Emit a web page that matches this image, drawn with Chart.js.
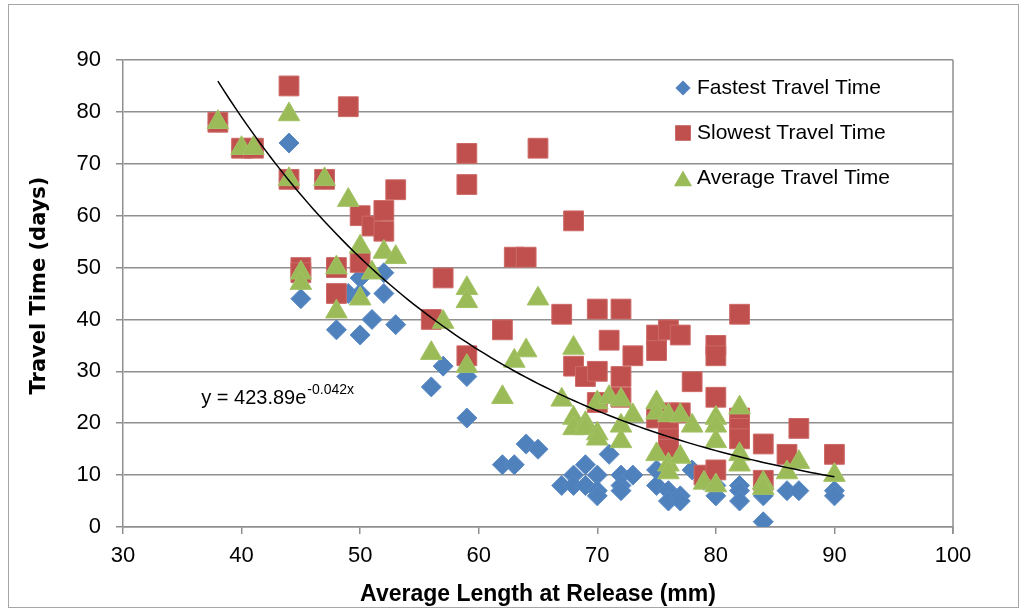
<!DOCTYPE html>
<html>
<head>
<meta charset="utf-8">
<script src="https://cdn.jsdelivr.net/npm/chart.js@4.4.1/dist/chart.umd.min.js"></script>
<style>
  html, body { margin: 0; padding: 0; background: #fff; overflow: hidden; }
  #c { display: block; }
</style>
</head>
<body>
<canvas id="c" width="1024" height="613"></canvas>
<script>
// Release length (mm) and travel time (days) per group
const fastestX = [38,40,41,44,44,45,47,48,49,50,50,50,51,52,52,53,56,57,59,59,62,63,64,65,67,68,68,69,69,70,70,70,71,72,72,72,73,75,75,76,76,77,77,78,79,80,80,82,82,82,84,84,86,87,90,90];
const fastestY = [78,73,73,74,67,44,67,38,45,48,45,37,40,49,45,39,27,31,29,21,12,12,16,15,8,10,8,12,8,10,7,6,14,10,8,7,10,11,8,7,5,6,5,11,9,8,6,8,7,5,6,1,7,7,7,6];

const slowestX = [38,40,41,44,44,45,45,47,48,48,49,50,50,51,52,52,53,56,57,59,59,59,62,63,64,65,67,68,68,69,70,70,70,71,72,72,72,73,75,75,75,76,76,76,76,76,77,77,78,79,80,80,80,80,82,82,82,82,84,84,86,87,90];
const slowestY = [78,73,73,85,67,50,49,67,50,45,81,60,51,58,61,57,65,40,48,72,66,33,38,52,52,73,41,59,31,29,42,30,24,36,42,29,25,33,37,34,21,38,22,19,17,15,37,22,28,10,35,33,25,11,41,21,19,17,16,9,14,19,14];

const averageX = [38,40,41,44,44,45,45,47,48,48,49,50,50,51,52,53,56,57,59,59,59,62,63,64,65,67,68,68,68,69,69,70,70,70,71,72,72,72,73,75,75,75,76,76,76,77,77,78,79,80,80,80,80,82,82,82,84,84,86,87,90];
const averageY = [78,73,73,79.5,67,49,47,67,50,41.5,63,54,44,49,53,52,33.5,39.5,46,43.5,31,25,32,34,44,24.5,34.5,21,19,20,19,24,18,17,25,24.5,19.5,16.5,21.5,24,22,14,21.5,12,10.5,21.5,13.5,19.5,8.5,21,19.5,16.5,8,23,14,12,8.5,7.5,10.5,12.5,10];

// Exponential fit y = a * e^(b x), shown over the sampled length range
const fitA = 423.89;
const fitB = -0.042;
const fitFrom = 38;
const fitTo = 90;

const seriesNames = ['Fastest Travel Time', 'Slowest Travel Time', 'Average Travel Time'];
const xTitle = 'Average Length at Release (mm)';
const yTitle = 'Travel Time (days)';

const toPoints = (xs, ys) => xs.map((x, i) => ({ x, y: ys[i] }));
const fitPoints = [];
for (let x = fitFrom; x <= fitTo + 1e-9; x += 0.5) fitPoints.push({ x, y: fitA * Math.exp(fitB * x) });

const BLUE = '#4F81BD', RED = '#C0504D', GREEN = '#9BBB59';
const SANS = "'Liberation Sans', Arial, sans-serif";
const GRID = '#8f8f8f';

const decorations = {
  id: 'decorations',
  beforeDraw(chart) {
    const { ctx } = chart;
    ctx.save();
    ctx.strokeStyle = '#a6a6a6';
    ctx.lineWidth = 1;
    ctx.strokeRect(8.5, 4.5, 1010, 603);
    ctx.restore();
  },
  afterDraw(chart) {
    const { ctx, chartArea: a } = chart;
    ctx.save();
    // right edge of plot area, continuing as the last x tick
    ctx.strokeStyle = GRID;
    ctx.lineWidth = 1.5;
    ctx.beginPath();
    ctx.moveTo(a.right, a.top);
    ctx.lineTo(a.right, a.bottom + 7);
    ctx.stroke();

    // axis titles
    ctx.fillStyle = '#000';
    ctx.textAlign = 'center';
    ctx.textBaseline = 'middle';
    ctx.font = "bold 23px " + SANS;
    ctx.fillText(xTitle, (a.left + a.right) / 2, 595);
    ctx.save();
    ctx.translate(40, (a.top + a.bottom) / 2 - 8);
    ctx.rotate(-Math.PI / 2);
    ctx.font = "bold 21px 'DejaVu Sans', sans-serif";
    ctx.fillText(yTitle, 0, 0);
    ctx.restore();

    // legend inside the plot area
    const styles = [
      { style: 'rectRot', r: 6.5, color: BLUE },
      { style: 'rect', r: 10, color: RED },
      { style: 'triangle', r: 9, color: GREEN }
    ];
    ctx.font = "21px " + SANS;
    ctx.textAlign = 'left';
    const lx = a.left + 560, ly = a.top + 28, step = 45;
    styles.forEach((s, i) => {
      const y = ly + i * step;
      ctx.fillStyle = s.color;
      ctx.strokeStyle = s.color;
      Chart.helpers.drawPoint(ctx, { pointStyle: s.style, radius: s.r, borderWidth: 0.5 }, lx, y + (s.style === 'triangle' ? 3 : 0));
      ctx.fillStyle = '#000';
      ctx.fillText(seriesNames[i], lx + 14, y);
    });

    // fit equation
    const xs = chart.scales.x, ys = chart.scales.y;
    const ex = xs.getPixelForValue(36.6), ey = ys.getPixelForValue(23.7);
    ctx.textBaseline = 'alphabetic';
    ctx.font = "20px " + SANS;
    const base = 'y = ' + fitA.toFixed(2) + 'e';
    ctx.fillText(base, ex, ey);
    const w = ctx.measureText(base).width;
    ctx.font = "14px " + SANS;
    ctx.fillText(String(fitB) + 'x', ex + w + 1, ey - 10);
    ctx.restore();
  }
};

new Chart(document.getElementById('c'), {
  type: 'scatter',
  data: {
    datasets: [
      {
        label: seriesNames[0], data: toPoints(fastestX, fastestY), order: 3,
        pointStyle: 'rectRot', pointRadius: 10, pointHoverRadius: 10,
        backgroundColor: BLUE, borderColor: '#5a8ac4', borderWidth: 1
      },
      {
        label: seriesNames[1], data: toPoints(slowestX, slowestY), order: 2,
        pointStyle: 'rect', pointRadius: 14, pointHoverRadius: 14,
        backgroundColor: RED, borderColor: '#cc6a67', borderWidth: 1
      },
      {
        label: seriesNames[2], data: toPoints(averageX, averageY), order: 1,
        pointStyle: 'triangle', pointRadius: 12.5, pointHoverRadius: 12.5,
        backgroundColor: GREEN, borderColor: '#a4c265', borderWidth: 1
      },
      {
        type: 'line', label: 'Expon. fit', data: fitPoints, order: 0,
        borderColor: '#000', borderWidth: 1.5, pointRadius: 0, fill: false, tension: 0
      }
    ]
  },
  options: {
    responsive: false,
    animation: false,
    devicePixelRatio: 1,
    layout: { padding: { top: 60, right: 71, left: 0, bottom: 0 } },
    plugins: { legend: { display: false }, tooltip: { enabled: false } },
    scales: {
      x: {
        type: 'linear', min: 30, max: 100,
        afterFit(s) { s.height = 86; },
        ticks: { stepSize: 10, padding: 9, color: '#000', font: { family: SANS, size: 22 } },
        grid: { drawOnChartArea: false, drawTicks: true, tickLength: 7, color: GRID, lineWidth: 1.5 },
        border: { display: true, color: GRID, width: 1.5 }
      },
      y: {
        type: 'linear', min: 0, max: 90,
        afterFit(s) { s.width = 123; },
        ticks: { stepSize: 10, padding: 15, color: '#000', font: { family: SANS, size: 22 } },
        grid: { drawTicks: true, tickLength: 7, color: GRID, lineWidth: 1.5 },
        border: { display: true, color: GRID, width: 1.5 }
      }
    }
  },
  plugins: [decorations]
});
</script>
</body>
</html>
